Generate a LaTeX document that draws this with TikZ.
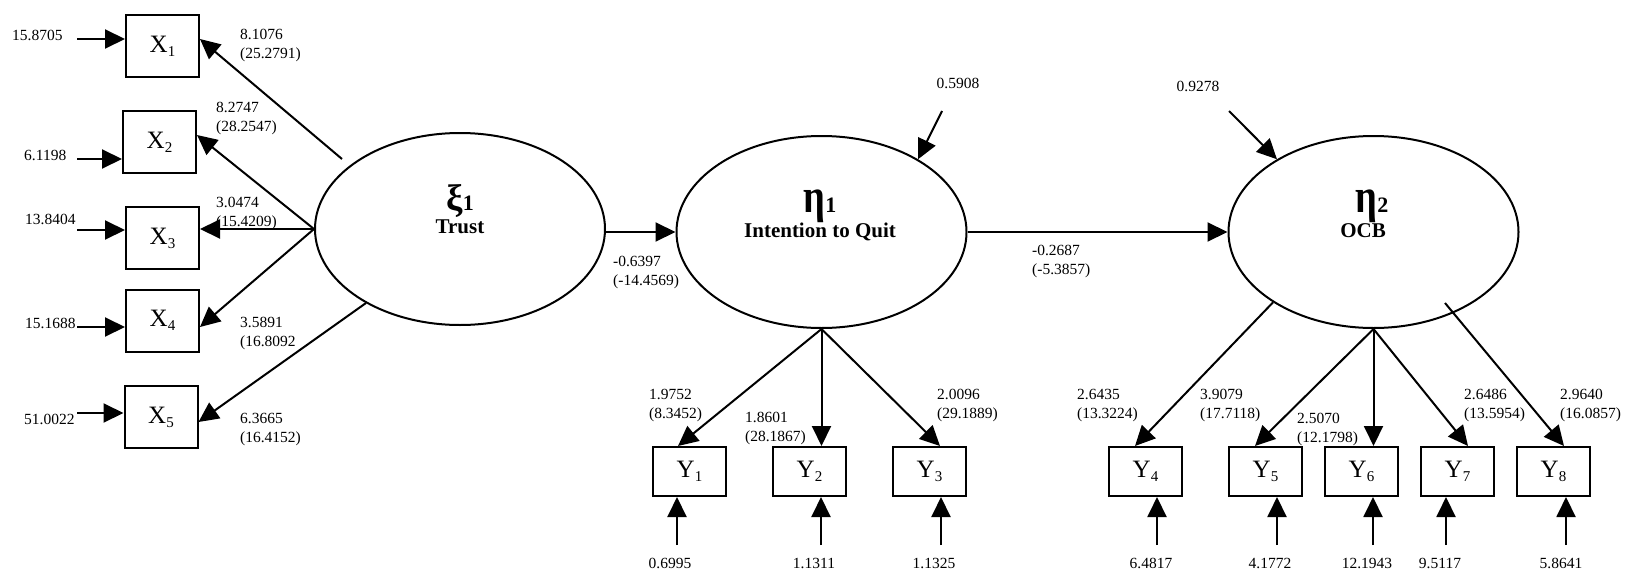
\documentclass[tikz,border=0pt]{standalone}
\usepackage{fontspec}
\setmainfont{Liberation Serif}
\usetikzlibrary{arrows.meta,shapes.geometric}

% lowered small index after a box letter
\newcommand\sbx[1]{\raisebox{-4pt}{\fontsize{15}{15}\selectfont #1}}
% bold index digit after a Greek latent symbol
\newcommand\gix[1]{\fontsize{22}{22}\selectfont #1}

\begin{document}
\begin{tikzpicture}[x=1pt,y=-1pt,
  num/.style={font=\fontsize{15.5}{19.5}\selectfont, inner sep=0pt, align=left},
  two/.style={num, anchor=north west},
  obsx/.style={draw, line width=2pt, minimum width=73pt, minimum height=62pt,
               inner sep=0pt, font=\fontsize{25}{25}\selectfont},
  obsy/.style={obsx, minimum height=49pt},
  latent/.style={ellipse, draw, line width=2pt, minimum width=290pt,
                 minimum height=192pt, inner sep=0pt},
  link/.style={line width=2pt, -{Triangle[length=20pt,width=19pt]}},
  greek/.style={font=\bfseries, inner sep=0pt, anchor=base},
  lname/.style={font=\bfseries\fontsize{21}{21}\selectfont, inner sep=0pt, anchor=base},
]
\useasboundingbox (0,0) rectangle (1625,570);

% latent variables
\node[latent] (trust) at (460,229) {};
\node[latent] (int)   at (821.5,232) {};
\node[latent] (ocb)   at (1373.5,232) {};

\node[greek] (xi) at (460,210)
  {\fontsize{37}{37}\selectfont ξ\gix{1}};
\node[lname] (trustname) at (460,233) {Trust};
\node[greek] (eta1) at (820,212)
  {\scalebox{0.8}[1]{\fontsize{48}{48}\selectfont η}\gix{1}};
\node[lname] (intname) at (820,237) {Intention to Quit};
\node[greek] (eta2) at (1372,212)
  {\scalebox{0.8}[1]{\fontsize{48}{48}\selectfont η}\gix{2}};
\node[lname] (ocbname) at (1363,237) {OCB};

% exogenous indicators
\node[obsx] (x1) at (162.5,46)    {X\sbx{1}};
\node[obsx] (x2) at (159.5,142)   {X\sbx{2}};
\node[obsx] (x3) at (162.5,238)   {X\sbx{3}};
\node[obsx] (x4) at (162.5,320.5) {X\sbx{4}};
\node[obsx] (x5) at (161,417)     {X\sbx{5}};

% measurement errors of X
\node[num, anchor=west] (ex1) at (12,35)  {15.8705};
\node[num, anchor=west] (ex2) at (24,155) {6.1198};
\node[num, anchor=west] (ex3) at (25,219) {13.8404};
\node[num, anchor=west] (ex4) at (25,323) {15.1688};
\node[num, anchor=west] (ex5) at (24,419) {51.0022};
\coordinate (e1) at (77,39);
\coordinate (e2) at (77,159);
\coordinate (e3) at (77,230);
\coordinate (e4) at (77,327);
\coordinate (e5) at (77,413);
\draw[link] (e1) -- (e1 -| x1.west);
\draw[link] (e2) -- (e2 -| x2.west);
\draw[link] (e3) -- (e3 -| x3.west);
\draw[link] (e4) -- (e4 -| x4.west);
\draw[link] (e5) -- (e5 -| x5.west);

% loadings of Trust
\coordinate (t1) at (342,159);
\coordinate (t5) at (366,303);
\draw[link] (t1) -- ([yshift=7pt]x1.east);
\draw[link] (trust.west) -- ([yshift=7pt]x2.east);
\draw[link] (trust.west) -- (trust.west -| x3.east);
\draw[link] (trust.west) -- ([yshift=-6.5pt]x4.east);
\draw[link] (t5) -- ([yshift=-5pt]x5.east);

\node[two] (l1) at (240,28.8)  {8.1076\\(25.2791)};
\node[two] (l2) at (216,101.8) {8.2747\\(28.2547)};
\node[two] (l3) at (216,196.8) {3.0474\\(15.4209)};
\node[two] (l4) at (240,316.8) {3.5891\\(16.8092};
\node[two] (l5) at (240,412.8) {6.3665\\(16.4152)};

% structural paths
\draw[link] (trust.east |- int.west) -- (int.west);
\draw[link] (int.east) -- (ocb.west);
\node[two] (g1) at (613,255.8)  {-0.6397\\(-14.4569)};
\node[two] (b1) at (1032,244.8) {-0.2687\\(-5.3857)};

% disturbances
\node[num] (z1) at (958,83)  {0.5908};
\node[num] (z2) at (1198,86) {0.9278};
\coordinate (d1) at (942,111);
\coordinate (d2) at (1229,111);
\draw[link] (d1) -- (int.37);
\draw[link] (d2) -- (ocb.143);

% endogenous indicators
\node[obsy] (y1) at (689.5,471.5)  {Y\sbx{1}};
\node[obsy] (y2) at (809.5,471.5)  {Y\sbx{2}};
\node[obsy] (y3) at (929.5,471.5)  {Y\sbx{3}};
\node[obsy] (y4) at (1145.5,471.5) {Y\sbx{4}};
\node[obsy] (y5) at (1265.5,471.5) {Y\sbx{5}};
\node[obsy] (y6) at (1361.5,471.5) {Y\sbx{6}};
\node[obsy] (y7) at (1457.5,471.5) {Y\sbx{7}};
\node[obsy] (y8) at (1553.5,471.5) {Y\sbx{8}};

\draw[link] (int.south) -- ([xshift=-11.5pt]y1.north);
\draw[link] (int.south) -- (int.south |- y2.north);
\draw[link] (int.south) -- ([xshift=10.5pt]y3.north);
\coordinate (o8) at (1445,303);
\draw[link] (ocb.215.8) -- ([xshift=-10.5pt]y4.north);
\draw[link] (ocb.south) -- ([xshift=-10.5pt]y5.north);
\draw[link] (ocb.south) -- (ocb.south |- y6.north);
\draw[link] (ocb.south) -- ([xshift=10.5pt]y7.north);
\draw[link] (o8) -- ([xshift=10.5pt]y8.north);

\node[two] (m1) at (649,388.8)  {1.9752\\(8.3452)};
\node[two] (m2) at (745,411.8)  {1.8601\\(28.1867)};
\node[two] (m3) at (937,388.8)  {2.0096\\(29.1889)};
\node[two] (m4) at (1077,388.8) {2.6435\\(13.3224)};
\node[two] (m5) at (1200,388.8) {3.9079\\(17.7118)};
\node[two] (m6) at (1297,412.8) {2.5070\\(12.1798)};
\node[two] (m7) at (1464,388.8) {2.6486\\(13.5954)};
\node[two] (m8) at (1560,388.8) {2.9640\\(16.0857)};

% measurement errors of Y
\coordinate (u1) at (677,545);
\coordinate (u2) at (821,545);
\coordinate (u3) at (941,545);
\coordinate (u4) at (1157,545);
\coordinate (u5) at (1277,545);
\coordinate (u6) at (1373,545);
\coordinate (u7) at (1446,545);
\coordinate (u8) at (1566,545);
\foreach \i in {1,...,8} {\draw[link] (u\i) -- (u\i |- y\i.south);}

\node[num] (ey1) at (670,563)  {0.6995};
\node[num] (ey2) at (814,563)  {1.1311};
\node[num] (ey3) at (934,563)  {1.1325};
\node[num] (ey4) at (1151,563) {6.4817};
\node[num] (ey5) at (1270,563) {4.1772};
\node[num] (ey6) at (1367,563) {12.1943};
\node[num] (ey7) at (1440,563) {9.5117};
\node[num] (ey8) at (1561,563) {5.8641};
\end{tikzpicture}
\end{document}
